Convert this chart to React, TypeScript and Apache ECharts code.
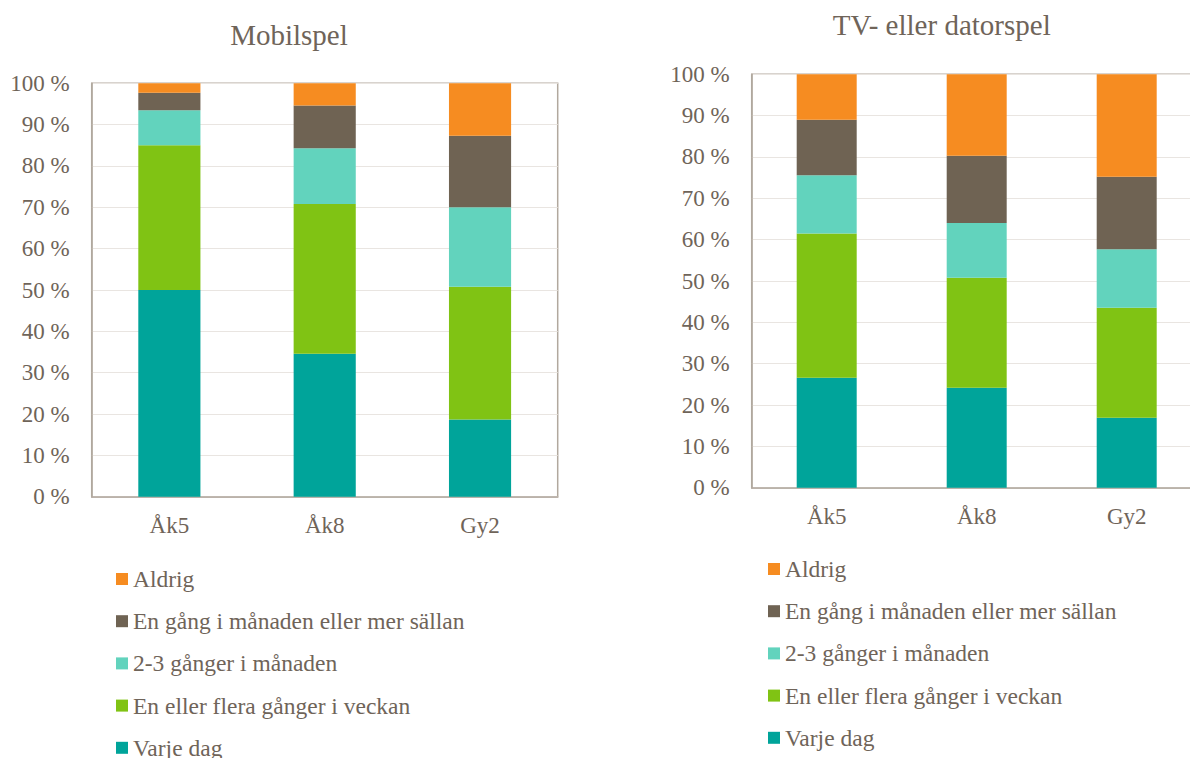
import React, { useEffect, useRef } from "react";
import * as echarts from "echarts";

const categories = ["Åk5", "Åk8", "Gy2"];
const seriesNames = [
  "Varje dag",
  "En eller flera gånger i veckan",
  "2-3 gånger i månaden",
  "En gång i månaden eller mer sällan",
  "Aldrig",
];
const colors = ["#00a49a", "#80c314", "#62d3bd", "#6f6353", "#f68c21"];

// Mobilspel
const mobilVarjeDag = [50, 34.6, 18.7];
const mobilVeckan = [35, 36.2, 32.1];
const mobil23 = [8.5, 13.5, 19.2];
const mobilEnGang = [4.2, 10.3, 17.3];
const mobilAldrig = [2.3, 5.4, 12.7];

// TV- eller datorspel
const tvVarjeDag = [26.6, 24.2, 16.9];
const tvVeckan = [34.9, 26.6, 26.6];
const tv23 = [14.1, 13.2, 14.2];
const tvEnGang = [13.4, 16.3, 17.5];
const tvAldrig = [11.0, 19.7, 24.8];

const titles = ["Mobilspel", "TV- eller datorspel"];

const FONT = "'Liberation Serif', 'Times New Roman', serif";
const TEXT = "#6f6459";
const AXIS = "#b1a89e";
const GRIDLINE = "#e9e5e1";

export default function App() {
  const ref = useRef<HTMLDivElement>(null);
  useEffect(() => {
    document.body.style.margin = "0";
    const chart = echarts.init(ref.current!, null, { renderer: "svg" });
    const mobil = [mobilVarjeDag, mobilVeckan, mobil23, mobilEnGang, mobilAldrig];
    const tv = [tvVarjeDag, tvVeckan, tv23, tvEnGang, tvAldrig];
    const legendOrder = [...seriesNames].reverse();

    const mkX = (gridIndex: number) => ({
      type: "category",
      gridIndex,
      data: categories,
      axisLine: { show: true, lineStyle: { color: AXIS, width: 1.5 } },
      axisTick: { show: false },
      axisLabel: { color: TEXT, fontFamily: FONT, fontSize: 23, margin: 17 },
    });
    const mkY = (gridIndex: number) => ({
      type: "value",
      gridIndex,
      min: 0,
      max: 100,
      interval: 10,
      axisLine: { show: true, lineStyle: { color: AXIS, width: 1.5 } },
      axisTick: { show: false },
      splitLine: { show: true, lineStyle: { color: GRIDLINE, width: 1 } },
      axisLabel: {
        color: TEXT,
        fontFamily: FONT,
        fontSize: 23,
        margin: 22,
        formatter: "{value} %",
      },
    });

    const series: any[] = [];
    [mobil, tv].forEach((set, gi) => {
      set.forEach((data, i) => {
        series.push({
          type: "bar",
          name: seriesNames[i],
          stack: "s" + gi,
          xAxisIndex: gi,
          yAxisIndex: gi,
          barWidth: "40%",
          data,
          itemStyle: { color: colors[i] },
        });
      });
    });

    const legends: any[] = [];
    const legendPos = [
      { left: 116, firstCenter: 578 },
      { left: 768, firstCenter: 568 },
    ];
    legendPos.forEach((p) => {
      legendOrder.forEach((name, k) => {
        legends.push({
          orient: "vertical",
          left: p.left,
          top: p.firstCenter + k * 42.2 - 11,
          padding: 0,
          data: [name],
          icon: "rect",
          itemWidth: 12,
          itemHeight: 12,
          itemGap: 0,
          selectedMode: false,
          textStyle: { color: TEXT, fontFamily: FONT, fontSize: 23.5, lineHeight: 22 },
        });
      });
    });

    chart.setOption({
      animation: false,
      backgroundColor: "#ffffff",
      grid: [
        {
          left: 91.7,
          top: 83.3,
          width: 466,
          height: 413.4,
          show: true,
          borderColor: AXIS,
          borderWidth: 1.5,
          outerBoundsMode: "none",
        },
        {
          left: 751.7,
          top: 74.3,
          width: 450,
          height: 413.4,
          show: true,
          borderColor: AXIS,
          borderWidth: 1.5,
          outerBoundsMode: "none",
        },
      ],
      xAxis: [mkX(0), mkX(1)],
      yAxis: [mkY(0), mkY(1)],
      legend: legends,
      graphic: [
        {
          type: "text",
          x: 289,
          y: 34.5,
          style: {
            text: titles[0],
            fill: TEXT,
            font: `29px ${FONT}`,
            textAlign: "center",
            textVerticalAlign: "middle",
          },
        },
        {
          type: "text",
          x: 941.7,
          y: 25,
          style: {
            text: titles[1],
            fill: TEXT,
            font: `29px ${FONT}`,
            textAlign: "center",
            textVerticalAlign: "middle",
          },
        },
      ],
      series,
    });
    return () => chart.dispose();
  }, []);
  return <div ref={ref} style={{ width: 1190, height: 758 }} />;
}
